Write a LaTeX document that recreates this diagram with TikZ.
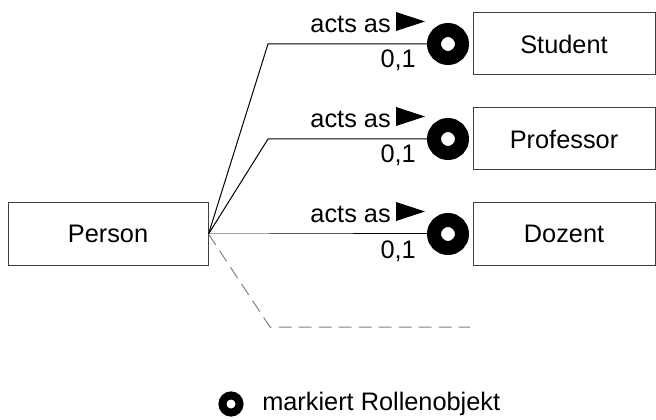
\documentclass[tikz,border=0pt]{standalone}
\usepackage{fontspec}
\setmainfont{Liberation Sans}
\usepackage{tikz}
\usetikzlibrary{positioning}

\tikzset{
    classbox/.style={draw=black!75, line width=0.75pt, minimum width=150pt, minimum height=46.5pt,
        inner sep=0pt, font=\fontsize{19}{21}\selectfont},
    ringpos/.style={circle, minimum size=21pt, inner sep=0pt, outer sep=0pt},
    ringline/.style={line width=10.5pt},
    lbl/.style={inner sep=0pt, font=\fontsize{19}{21}\selectfont},
    link/.style={line width=0.75pt}
}

\begin{document}
\begin{tikzpicture}[x=0.75pt, y=-0.75pt]
    \useasboundingbox (0,0) rectangle (656,420);

    \node[classbox] (person) at (108,234) {Person};

    % roles of a person
    \foreach \name/\txt/\y in {stud/Student/44, prof/Professor/139, doz/Dozent/234} {
        \node[classbox, minimum width=136.5pt] (\name) at (564,\y) {\txt};
        \node[ringpos] (\name ring) at (448,\y) {};
        \draw[link] (person.east) -- (268,\y) -- (\name ring);
        \draw[ringline] (\name ring.center) circle[radius=10.5pt];
        \node[lbl, anchor=base east] (\name acts) at (391,\y-11) {acts as};
        \fill (396,\y-32) -- (396,\y-13) -- (425,\y-22.5) -- cycle;
        \node[lbl, anchor=base east] (\name card) at (416,\y+24) {0,1};
    }

    % further roles
    \coordinate (more) at (470,327);
    \draw[link, gray, dash pattern=on 9.75pt off 5.25pt] (person.east) -- (270,327) -- (more);

    % legend
    \node[ringpos, minimum size=12.8pt] (legring) at (231,404) {};
    \draw[ringline, line width=6pt] (legring.center) circle[radius=6.4pt];
    \node[lbl, anchor=west] (legtext) at (262,404) {markiert Rollenobjekt};
\end{tikzpicture}
\end{document}
